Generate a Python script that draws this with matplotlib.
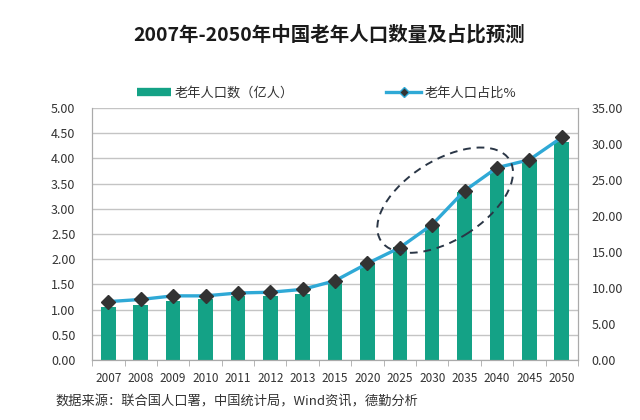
import matplotlib
matplotlib.use("Agg")
import matplotlib.pyplot as plt
import numpy as np
from matplotlib.lines import Line2D
from matplotlib.patches import Ellipse
from matplotlib.ticker import FixedLocator, FormatStrFormatter
from matplotlib.transforms import ScaledTranslation

plt.rcParams["font.family"] = ["Noto Sans CJK SC", "DejaVu Sans"]

TITLE = "2007年-2050年中国老年人口数量及占比预测"
SOURCE = "数据来源：联合国人口署，中国统计局，Wind资讯，德勤分析"
BAR_LABEL = "老年人口数（亿人）"
LINE_LABEL = "老年人口占比%"

YEARS = ["2007", "2008", "2009", "2010", "2011", "2012", "2013", "2015",
         "2020", "2025", "2030", "2035", "2040", "2045", "2050"]
ELDERLY_POP = [1.06, 1.10, 1.16, 1.21, 1.26, 1.26, 1.31, 1.52,
               1.92, 2.25, 2.65, 3.34, 3.77, 3.97, 4.33]
ELDERLY_SHARE = [8.1, 8.4, 8.9, 8.9, 9.3, 9.4, 9.8, 11.0,
                 13.4, 15.6, 18.8, 23.5, 26.7, 27.8, 30.9]

BAR_COLOR = "#14a286"
LINE_COLOR = "#2fa9d6"
MARKER_COLOR = "#333333"
GRID_COLOR = "#c4c4c4"
TEXT_COLOR = "#333333"


def main():
    fig = plt.figure(figsize=(6.4, 4.2), dpi=100)
    ax = fig.add_axes([0.144, 0.143, 0.759, 0.6])
    ax2 = ax.twinx()

    x = np.arange(len(YEARS))
    ax.bar(x, ELDERLY_POP, width=0.45, color=BAR_COLOR, zorder=2)
    ax2.plot(x, ELDERLY_SHARE, color=LINE_COLOR, linewidth=2.4,
             marker="D", markersize=7, markerfacecolor=MARKER_COLOR,
             markeredgecolor=MARKER_COLOR, zorder=3)

    ax.set_xlim(-0.5, len(YEARS) - 0.5)
    ax.set_ylim(0, 5)
    ax2.set_ylim(0, 35)
    ax.set_yticks(np.arange(0, 5.01, 0.5))
    ax2.set_yticks(np.arange(0, 35.01, 5))
    ax.yaxis.set_major_formatter(FormatStrFormatter("%.2f"))
    ax2.yaxis.set_major_formatter(FormatStrFormatter("%.2f"))
    ax.grid(axis="y", color=GRID_COLOR, linewidth=1.0, zorder=0)
    ax.set_axisbelow(True)

    ax.set_xticks(x)
    ax.set_xticklabels(YEARS)
    ax.xaxis.set_minor_locator(FixedLocator(np.arange(-0.5, len(YEARS), 1.0)))
    ax.tick_params(axis="x", which="major", length=0, pad=9,
                   labelsize=8.5, labelcolor=TEXT_COLOR)
    ax.tick_params(axis="x", which="minor", length=4, color="#aaaaaa")
    ax.tick_params(axis="y", length=0, pad=12, labelsize=9, labelcolor=TEXT_COLOR)
    ax2.tick_params(axis="y", length=0, pad=10, labelsize=9, labelcolor=TEXT_COLOR)

    for a in (ax, ax2):
        a.spines["top"].set_visible(False)
        for side in ("left", "right", "bottom"):
            a.spines[side].set_color("#aaaaaa")

    # dashed highlight ring around 2025-2040
    offset = ScaledTranslation(10.4, 3.17, ax.transData)
    ring = Ellipse((0, 0), 1.52, 0.8, angle=32, fill=False,
                   edgecolor="#2a3646", linewidth=1.4, linestyle=(0, (4, 3)),
                   transform=fig.dpi_scale_trans + offset, zorder=5)
    ax2.add_patch(ring)

    handles = [
        Line2D([0], [0], color=BAR_COLOR, linewidth=6, solid_capstyle="butt"),
        Line2D([0], [0], color=LINE_COLOR, linewidth=2.4, marker="D",
               markersize=5, markerfacecolor=MARKER_COLOR,
               markeredgecolor=LINE_COLOR),
    ]
    fig.legend(handles, [BAR_LABEL, LINE_LABEL], loc="center",
               bbox_to_anchor=(0.51, 0.779), ncol=2, frameon=False,
               fontsize=9.5, handlelength=2.6, handletextpad=0.3,
               columnspacing=7, labelcolor=TEXT_COLOR)

    fig.text(0.515, 0.917, TITLE, ha="center", va="center",
             fontsize=14, fontweight="bold", color="#1a1a1a")
    fig.text(0.086, 0.043, SOURCE, ha="left", va="center",
             fontsize=9.5, color=TEXT_COLOR)

    fig.savefig("out.png", dpi=100)


if __name__ == "__main__":
    main()
